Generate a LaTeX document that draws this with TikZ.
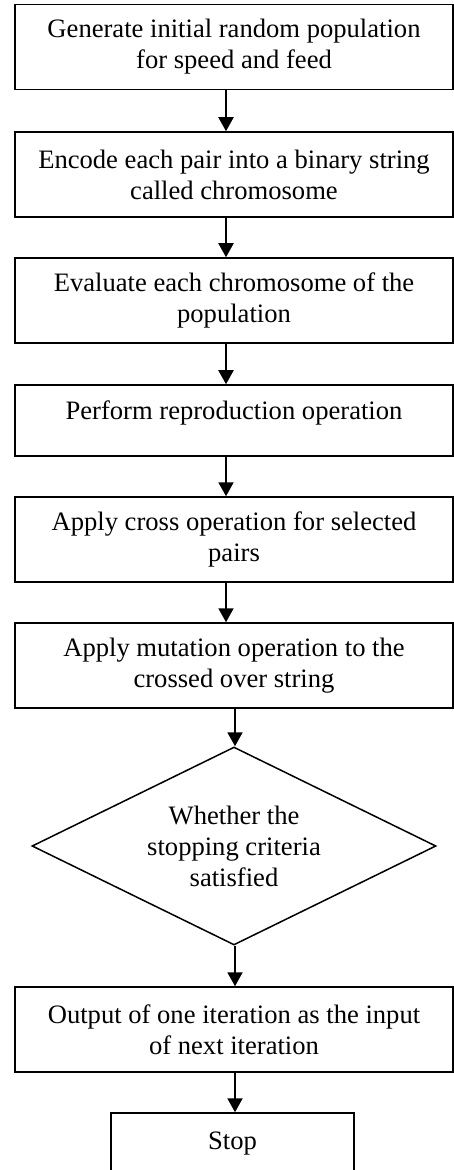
\documentclass[tikz,border=0pt]{standalone}
\usepackage{fontspec}
\setmainfont{Liberation Serif}
\usetikzlibrary{shapes.geometric,arrows.meta}
\begin{document}
\begin{tikzpicture}[x=0.5pt,y=-0.5pt,
  every node/.style={font=\fontsize{13.3}{15.5}\selectfont, align=center, inner sep=0pt},
  stepbox/.style={draw, line width=0.75pt, minimum width=219pt, minimum height=42.5pt},
  decbox/.style={draw, line width=0.75pt, diamond, aspect=2.04, minimum width=202pt, minimum height=99pt},
  flow/.style={line width=1pt, -{Triangle[length=7pt,width=7.5pt]}}]
\clip (0,0) rectangle (454,1170);
\useasboundingbox (0,0) rectangle (454,1170);
\node[stepbox] (b1) at (234,47) {Generate initial random population\\for speed and feed};
\node[stepbox] (b2) at (234,174.5) {Encode each pair into a binary string\\called chromosome};
\node[stepbox] (b3) at (234,300.5) {Evaluate each chromosome of the\\population};
\node[stepbox, minimum height=35.5pt, text depth=10pt] (b4) at (234,420.5) {Perform reproduction operation};
\node[stepbox] (b5) at (234,539.5) {Apply cross operation for selected\\pairs};
\node[stepbox] (b6) at (234,665.5) {Apply mutation operation to the\\crossed over string};
\node[decbox] (d) at (234,846) {Whether the\\stopping criteria\\satisfied};
\node[stepbox] (b7) at (234,1029.5) {Output of one iteration as the input\\of next iteration};
\node[draw, line width=0.75pt, minimum width=121.5pt, minimum height=31pt] (stop) at (232.5,1144) {Stop};
\coordinate (ax) at (226,0);
\coordinate (bx) at (235,0);
\draw[flow] (b1.south -| ax) -- (b2.north -| ax);
\draw[flow] (b2.south -| ax) -- (b3.north -| ax);
\draw[flow] (b3.south -| ax) -- (b4.north -| ax);
\draw[flow] (b4.south -| ax) -- (b5.north -| ax);
\draw[flow] (b5.south -| ax) -- (b6.north -| ax);
\draw[flow] (b6.south -| bx) -- (d.north -| bx);
\draw[flow] (d.south -| bx) -- (b7.north -| bx);
\draw[flow] (b7.south -| bx) -- (stop.north -| bx);
\end{tikzpicture}
\end{document}
